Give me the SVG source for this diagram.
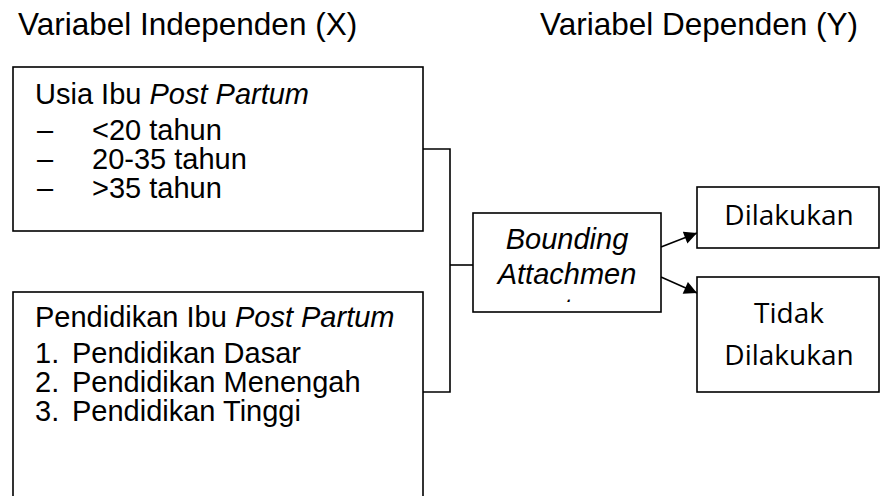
<svg xmlns="http://www.w3.org/2000/svg" width="881" height="496" viewBox="0 0 881 496">
<style>
  .box { fill: #fff; stroke: #000; stroke-width: 1.6; }
  .t { font-family: "Liberation Sans", Arial, sans-serif; font-size: 29px; fill: #000; }
  .h { font-family: "Liberation Sans", Arial, sans-serif; font-size: 31.5px; fill: #000; }
  .c { font-family: "Open Sans", "Noto Sans", sans-serif; font-size: 28px; fill: #000; }
  .i { font-style: italic; }
  .ln { fill: none; stroke: #000; stroke-width: 1.6; }
</style>
<defs>
  <marker id="ah" viewBox="0 0 10 10" refX="10" refY="5" markerWidth="8.5" markerHeight="8" markerUnits="strokeWidth" orient="auto">
    <path d="M0,0 L10,5 L0,10 z" fill="#000"/>
  </marker>
  <clipPath id="clipB"><rect x="474" y="214" width="186" height="88"/></clipPath>
</defs>
<rect width="881" height="496" fill="#fff"/>

<text class="h" x="18" y="35">Variabel Independen (X)</text>
<text class="h" x="540" y="35">Variabel Dependen (Y)</text>

<g id="connectors">
  <polyline class="ln" points="423,149 450,149 450,392 423,392"/>
  <line class="ln" x1="450" y1="265" x2="473" y2="265"/>
  <line class="ln" x1="661" y1="247" x2="697" y2="233" marker-end="url(#ah)"/>
  <line class="ln" x1="661" y1="277" x2="697" y2="293" marker-end="url(#ah)"/>
</g>

<g id="usia">
  <rect class="box" x="13" y="67" width="410" height="164"/>
  <text class="t" x="35" y="104">Usia Ibu <tspan class="i">Post Partum</tspan></text>
  <text class="t" y="140"><tspan x="37">–</tspan><tspan x="92">&lt;20 tahun</tspan></text>
  <text class="t" y="169"><tspan x="37">–</tspan><tspan x="92">20-35 tahun</tspan></text>
  <text class="t" y="198"><tspan x="37">–</tspan><tspan x="92">&gt;35 tahun</tspan></text>
</g>

<g id="pendidikan">
  <rect class="box" x="13" y="292" width="410" height="210"/>
  <text class="t" x="35" y="327">Pendidikan Ibu <tspan class="i">Post Partum</tspan></text>
  <text class="t" y="363"><tspan x="35">1.</tspan><tspan x="72">Pendidikan Dasar</tspan></text>
  <text class="t" y="392"><tspan x="35">2.</tspan><tspan x="72">Pendidikan Menengah</tspan></text>
  <text class="t" y="421"><tspan x="35">3.</tspan><tspan x="72">Pendidikan Tinggi</tspan></text>
</g>

<g id="bounding">
  <rect class="box" x="473" y="213" width="188" height="99"/>
  <g clip-path="url(#clipB)">
    <text class="t i" x="567" y="249" text-anchor="middle">Bounding</text>
    <text class="t i" x="567" y="284" text-anchor="middle">Attachmen</text>
    <text class="t i" x="567" y="319" text-anchor="middle">t</text>
  </g>
</g>

<g id="dilakukan">
  <rect class="box" x="697" y="187" width="182" height="61"/>
  <text class="c" x="789" y="225" text-anchor="middle">Dilakukan</text>
</g>

<g id="tidak">
  <rect class="box" x="697" y="277" width="182" height="115"/>
  <text class="c" x="789" y="323" text-anchor="middle">Tidak</text>
  <text class="c" x="789" y="365" text-anchor="middle">Dilakukan</text>
</g>
</svg>
